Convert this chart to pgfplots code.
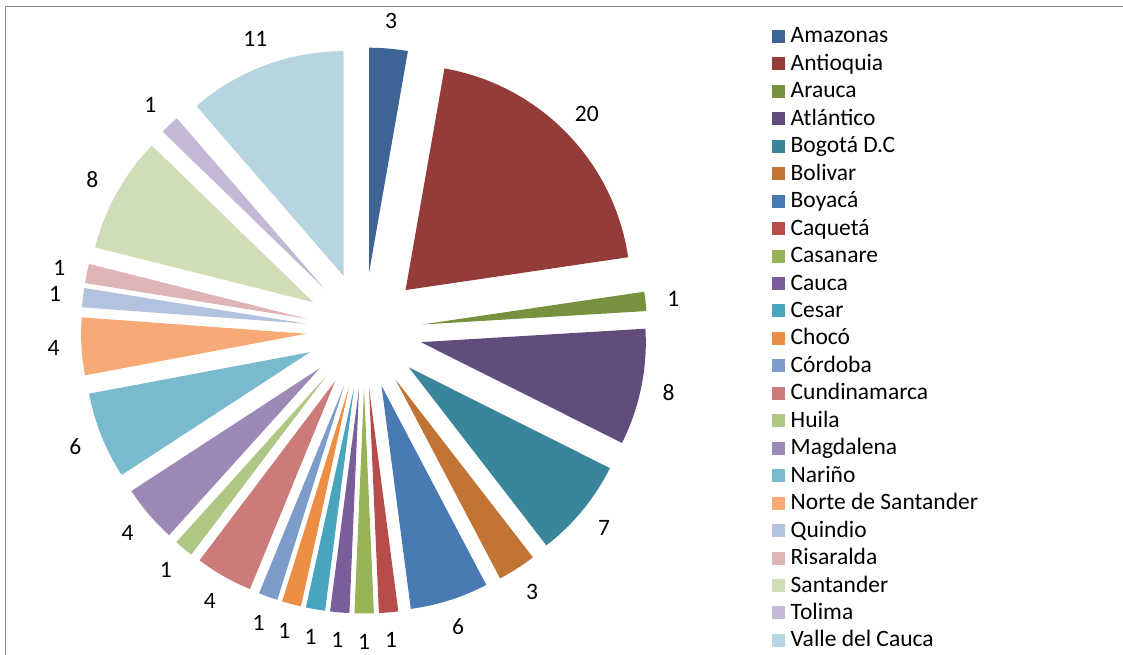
\documentclass[border=0pt]{standalone}
\usepackage{pgfplots}
\usepackage{pgfplotstable}
\pgfplotsset{compat=1.18}
\usepackage{fontspec}
\setmainfont{Carlito}
\newcommand\labfont{\fontsize{23.5}{28}\selectfont}
\definecolor{c1}{HTML}{3C6494}
\definecolor{c2}{HTML}{943C3A}
\definecolor{c3}{HTML}{77913F}
\definecolor{c4}{HTML}{614C7B}
\definecolor{c5}{HTML}{398599}
\definecolor{c6}{HTML}{C27435}
\definecolor{c7}{HTML}{4A7AB4}
\definecolor{c8}{HTML}{B84C49}
\definecolor{c9}{HTML}{96B356}
\definecolor{c10}{HTML}{7A5E99}
\definecolor{c11}{HTML}{48A5BD}
\definecolor{c12}{HTML}{EC8F42}
\definecolor{c13}{HTML}{7D9CC9}
\definecolor{c14}{HTML}{CB7C7A}
\definecolor{c15}{HTML}{AFC685}
\definecolor{c16}{HTML}{9D89B6}
\definecolor{c17}{HTML}{79BACF}
\definecolor{c18}{HTML}{F7AA76}
\definecolor{c19}{HTML}{B3C3DF}
\definecolor{c20}{HTML}{DEB5B4}
\definecolor{c21}{HTML}{CFDDB8}
\definecolor{c22}{HTML}{C4B8D4}
\definecolor{c23}{HTML}{B7D5E0}
\definecolor{framegray}{HTML}{8A8A8A}

\pgfplotstableread[col sep=comma]{
name,value,label,color
Amazonas,2.75,3,c1
Antioquia,19.8,20,c2
Arauca,1.37,1,c3
Atlántico,8.3,8,c4
Bogotá D.C,7.1,7,c5
Bolivar,2.75,3,c6
Boyacá,5.6,6,c7
Caquetá,1.37,1,c8
Casanare,1.37,1,c9
Cauca,1.37,1,c10
Cesar,1.37,1,c11
Chocó,1.37,1,c12
Córdoba,1.37,1,c13
Cundinamarca,4.1,4,c14
Huila,1.37,1,c15
Magdalena,4.1,4,c16
Nariño,6.2,6,c17
Norte de Santander,4.1,4,c18
Quindio,1.37,1,c19
Risaralda,1.37,1,c20
Santander,8.3,8,c21
Tolima,1.37,1,c22
Valle del Cauca,11.3,11,c23
}\piedata

\begin{document}
\begin{tikzpicture}
\def\total{0}
\pgfplotsforeachungrouped \i in {0,...,22}{%
  \pgfplotstablegetelem{\i}{value}\of\piedata
  \pgfmathsetmacro\total{\total+\pgfplotsretval}%
}
\def\cx{364}\def\cy{324.5}\def\dexp{58}\def\rad{225}\def\rlab{311}
\begin{axis}[
  x=1pt, y=1pt,
  xmin=0, xmax=1123, ymin=0, ymax=655,
  hide axis, clip=false,
  legend image code/.code={\path (0pt,0pt) (19.7pt,0pt); \fill[#1] (0.7pt,-5.5pt) rectangle (14pt,7.5pt);},
  legend cell align=left,
  legend style={at={(axis cs:771,628)}, anchor=north west, draw=none, fill=none,
    inner sep=0pt, outer sep=0pt, row sep=6.45pt, font=\labfont,
    nodes={inner sep=0pt, text height=16pt, text depth=5pt}},
]
\coordinate (BL) at (axis cs:0,0);
\coordinate (TR) at (axis cs:1123,655);
\draw[framegray, line width=1pt] (axis cs:5,-20) -- (axis cs:5,648) -- (axis cs:1140,648);
\def\cum{0}
\pgfplotsforeachungrouped \i in {0,...,22}{%
  \pgfplotstablegetelem{\i}{value}\of\piedata \let\v\pgfplotsretval
  \pgfplotstablegetelem{\i}{color}\of\piedata \let\col\pgfplotsretval
  \pgfplotstablegetelem{\i}{label}\of\piedata \let\lab\pgfplotsretval
  \pgfplotstablegetelem{\i}{name}\of\piedata \let\nm\pgfplotsretval
  \pgfmathsetmacro\ta{90-\cum/\total*360}%
  \pgfmathsetmacro\cum{\cum+\v}%
  \pgfmathsetmacro\tb{90-\cum/\total*360}%
  \pgfmathsetmacro\tm{(\ta+\tb)/2}%
  \pgfmathsetmacro\tx{\cx+\dexp*cos(\tm)}%
  \pgfmathsetmacro\ty{\cy+\dexp*sin(\tm)}%
  \pgfmathsetmacro\lx{\cx+\rlab*cos(\tm)}%
  \pgfmathsetmacro\ly{\cy+\rlab*sin(\tm)}%
  \edef\doit{%
    \noexpand\fill[\col] (axis cs:\tx,\ty) -- ++(\ta:\rad pt) arc[start angle=\ta, end angle=\tb, radius=\rad pt] -- cycle;
    \noexpand\node[font=\noexpand\labfont, inner sep=0pt] at (axis cs:\lx,\ly) {\lab};
    \noexpand\addlegendimage{fill=\col, draw=none}
    \noexpand\addlegendentry{\nm}
  }\doit
}
\end{axis}
\pgfresetboundingbox
\path[use as bounding box] (BL) rectangle (TR);
\end{tikzpicture}
\end{document}
